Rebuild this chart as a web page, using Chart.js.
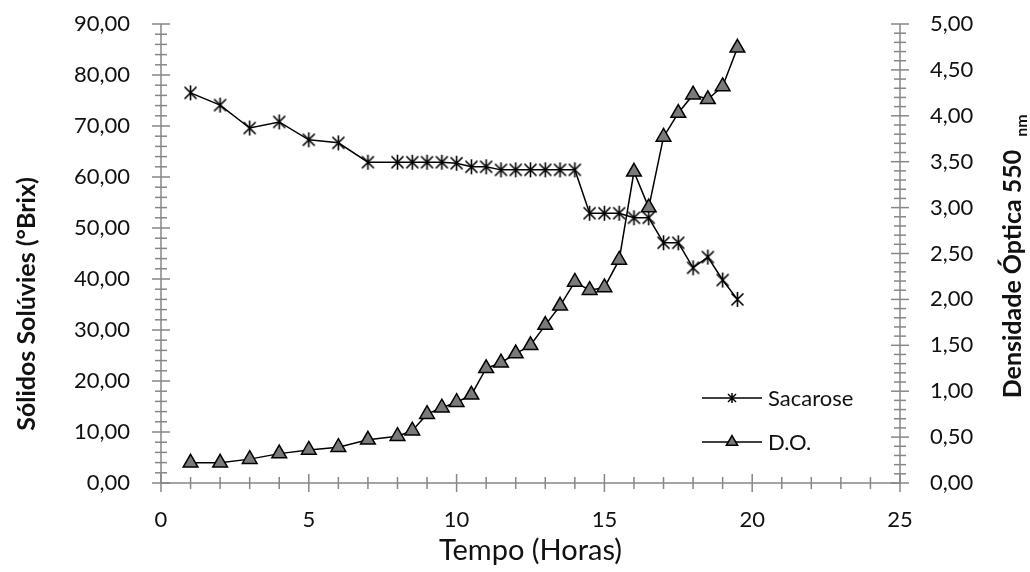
<!DOCTYPE html>
<html>
<head>
<meta charset="utf-8">
<script src="https://cdn.jsdelivr.net/npm/chart.js@4.4.0/dist/chart.umd.min.js"></script>
<style>
  html, body { margin: 0; padding: 0; background: #fff; }
  #wrap { width: 1030px; height: 572px; }
</style>
</head>
<body>
<div id="wrap"><canvas id="myChart" width="1030" height="572"></canvas></div>
<script>
const hours = [1, 2, 3, 4, 5, 6, 7, 8, 8.5, 9, 9.5, 10, 10.5, 11, 11.5, 12, 12.5, 13, 13.5, 14, 14.5, 15, 15.5, 16, 16.5, 17, 17.5, 18, 18.5, 19, 19.5];
const sacarose = [76.5, 74.1, 69.6, 70.8, 67.3, 66.7, 62.9, 62.9, 62.9, 62.9, 62.9, 62.7, 62.0, 62.0, 61.4, 61.4, 61.4, 61.4, 61.4, 61.4, 52.9, 52.9, 52.9, 52.0, 52.0, 47.1, 47.1, 42.2, 44.3, 39.8, 36.0];
const densidade = [0.22, 0.22, 0.26, 0.32, 0.36, 0.39, 0.47, 0.51, 0.57, 0.75, 0.82, 0.88, 0.96, 1.25, 1.31, 1.41, 1.50, 1.72, 1.93, 2.19, 2.10, 2.13, 2.43, 3.39, 3.00, 3.77, 4.03, 4.23, 4.18, 4.32, 4.74];

const xTicks = [0, 5, 10, 15, 20, 25];
const brixTicks = [0, 10, 20, 30, 40, 50, 60, 70, 80, 90];
const doTicks = [0, 0.5, 1, 1.5, 2, 2.5, 3, 3.5, 4, 4.5, 5];

const textColor = '#111';
const axisColor = '#868686';

// excel style star marker: an x with a vertical bar
function makeStar(size, lw) {
  const c = document.createElement('canvas');
  c.width = size; c.height = size;
  const g = c.getContext('2d');
  const m = size / 2, r = size / 2 - 1;
  g.strokeStyle = '#000';
  g.lineWidth = lw;
  g.beginPath();
  g.moveTo(m - r * 0.8, m - r * 0.8); g.lineTo(m + r * 0.8, m + r * 0.8);
  g.moveTo(m + r * 0.8, m - r * 0.8); g.lineTo(m - r * 0.8, m + r * 0.8);
  g.moveTo(m, m - r); g.lineTo(m, m + r);
  g.stroke();
  return c;
}
const starBig = makeStar(17, 1.6);
const starSmall = makeStar(12, 1.5);

const pts = (ys) => hours.map((h, i) => ({ x: h, y: ys[i] }));
const fmt = (v) => v.toFixed(2).replace('.', ',');

const axesPlugin = {
  id: 'axesPlugin',
  beforeDatasetsDraw(chart) {
    const { ctx, chartArea: a, scales } = chart;
    ctx.save();
    ctx.strokeStyle = axisColor;
    ctx.lineWidth = 1.5;
    const line = (x1, y1, x2, y2) => { ctx.beginPath(); ctx.moveTo(x1, y1); ctx.lineTo(x2, y2); ctx.stroke(); };
    line(a.left, a.top, a.left, a.bottom);
    line(a.right, a.top, a.right, a.bottom);
    line(a.left, a.bottom, a.right, a.bottom);
    for (let v = 0; v <= 90; v += 2) {
      const y = scales.y.getPixelForValue(v);
      const L = v % 10 === 0 ? 9 : 6;
      line(a.left - L, y, a.left + L, y);
    }
    for (let k = 0; k <= 50; k++) {
      const y = scales.y1.getPixelForValue(k / 10);
      const L = k % 5 === 0 ? 9 : 6;
      line(a.right - L, y, a.right + L, y);
    }
    for (let v = 0; v <= 25; v++) {
      const x = scales.x.getPixelForValue(v);
      const L = v % 5 === 0 ? 9 : 6;
      line(x, a.bottom - L, x, a.bottom + L);
    }
    ctx.restore();
  }
};

const titlesPlugin = {
  id: 'titlesPlugin',
  afterDraw(chart) {
    const { ctx } = chart;
    ctx.save();
    ctx.fillStyle = textColor;
    // left title
    ctx.save();
    ctx.translate(35, 304);
    ctx.rotate(-Math.PI / 2);
    ctx.font = 'bold 25px Lato';
    ctx.textAlign = 'center';
    ctx.textBaseline = 'alphabetic';
    ctx.fillText('Sólidos Solúvies (°Brix)', 0, 0);
    ctx.restore();
    // right title with subscript
    ctx.save();
    ctx.translate(1021, 274);
    ctx.rotate(-Math.PI / 2);
    ctx.font = 'bold 25px Lato';
    ctx.textAlign = 'left';
    const main = 'Densidade Óptica 550';
    const w = ctx.measureText(main).width;
    ctx.fillText(main, -w / 2, 0);
    ctx.font = 'bold 16px Lato';
    ctx.fillText('nm', w / 2 + 13, 6);
    ctx.restore();

    // legend
    ctx.font = '22px Lato';
    ctx.textAlign = 'left';
    ctx.textBaseline = 'middle';
    const rows = [{ label: 'Sacarose', y: 398, star: true }, { label: 'D.O.', y: 442, star: false }];
    rows.forEach(r => {
      ctx.strokeStyle = '#000';
      ctx.lineWidth = 1.5;
      ctx.beginPath(); ctx.moveTo(702, r.y); ctx.lineTo(762, r.y); ctx.stroke();
      if (r.star) {
        ctx.drawImage(starSmall, 732 - 6, r.y - 6);
      } else {
        const rad = 6.5;
        ctx.beginPath();
        ctx.moveTo(732, r.y - rad);
        ctx.lineTo(732 + rad * 0.866, r.y + rad / 2);
        ctx.lineTo(732 - rad * 0.866, r.y + rad / 2);
        ctx.closePath();
        ctx.fillStyle = '#7a7a7a';
        ctx.fill();
        ctx.stroke();
      }
      ctx.fillStyle = textColor;
      ctx.fillText(r.label, 768, r.y + 1);
    });
    ctx.restore();
  }
};

const ctx = document.getElementById('myChart');

const noPad = s => { s.paddingTop = 0; s.paddingBottom = 0; };

new Chart(ctx, {
  type: 'line',
  data: {
    datasets: [{
      label: 'D.O.',
      data: pts(densidade),
      yAxisID: 'y1',
      order: 0,
      borderColor: '#000',
      borderWidth: 1.5,
      pointStyle: 'triangle',
      pointRadius: 8.5,
      pointBackgroundColor: '#7a7a7a',
      pointBorderColor: '#000',
      pointBorderWidth: 1.5,
      tension: 0
    }, {
      label: 'Sacarose',
      data: pts(sacarose),
      yAxisID: 'y',
      order: 1,
      borderColor: '#000',
      borderWidth: 1.5,
      pointStyle: starBig,
      pointRadius: 8,
      tension: 0
    }]
  },
  options: {
    responsive: false,
    animation: false,
    clip: false,
    layout: { padding: { top: 24, left: 0, right: 0, bottom: 0 } },
    plugins: { legend: { display: false }, tooltip: { enabled: false } },
    scales: {
      x: {
        type: 'linear', min: 0, max: 25,
        afterBuildTicks: s => { s.ticks = xTicks.map(v => ({ value: v })); },
        afterFit: s => { s.height = 89; },
        grid: { display: false, drawTicks: false }, border: { display: false },
        ticks: { autoSkip: false, maxRotation: 0, padding: 24, color: textColor, font: { family: 'Lato', size: 22 }, callback: v => String(v) },
        title: { display: true, text: 'Tempo (Horas)', color: textColor, font: { family: 'Lato', size: 29 }, padding: { top: 0, bottom: 4 } }
      },
      y: {
        position: 'left', min: 0, max: 90,
        afterBuildTicks: s => { s.ticks = brixTicks.map(v => ({ value: v })); },
        afterFit: s => { s.width = 161; noPad(s); },
        grid: { display: false, drawTicks: false }, border: { display: false },
        ticks: { autoSkip: false, padding: 31, color: textColor, font: { family: 'Lato', size: 22 }, callback: v => fmt(v) }
      },
      y1: {
        position: 'right', min: 0, max: 5,
        afterBuildTicks: s => { s.ticks = doTicks.map(v => ({ value: v })); },
        afterFit: s => { s.width = 130; noPad(s); },
        grid: { display: false, drawTicks: false }, border: { display: false },
        ticks: { autoSkip: false, padding: 30, color: textColor, font: { family: 'Lato', size: 22 }, callback: v => fmt(v) }
      }
    }
  },
  plugins: [axesPlugin, titlesPlugin]
});
</script>
</body>
</html>
